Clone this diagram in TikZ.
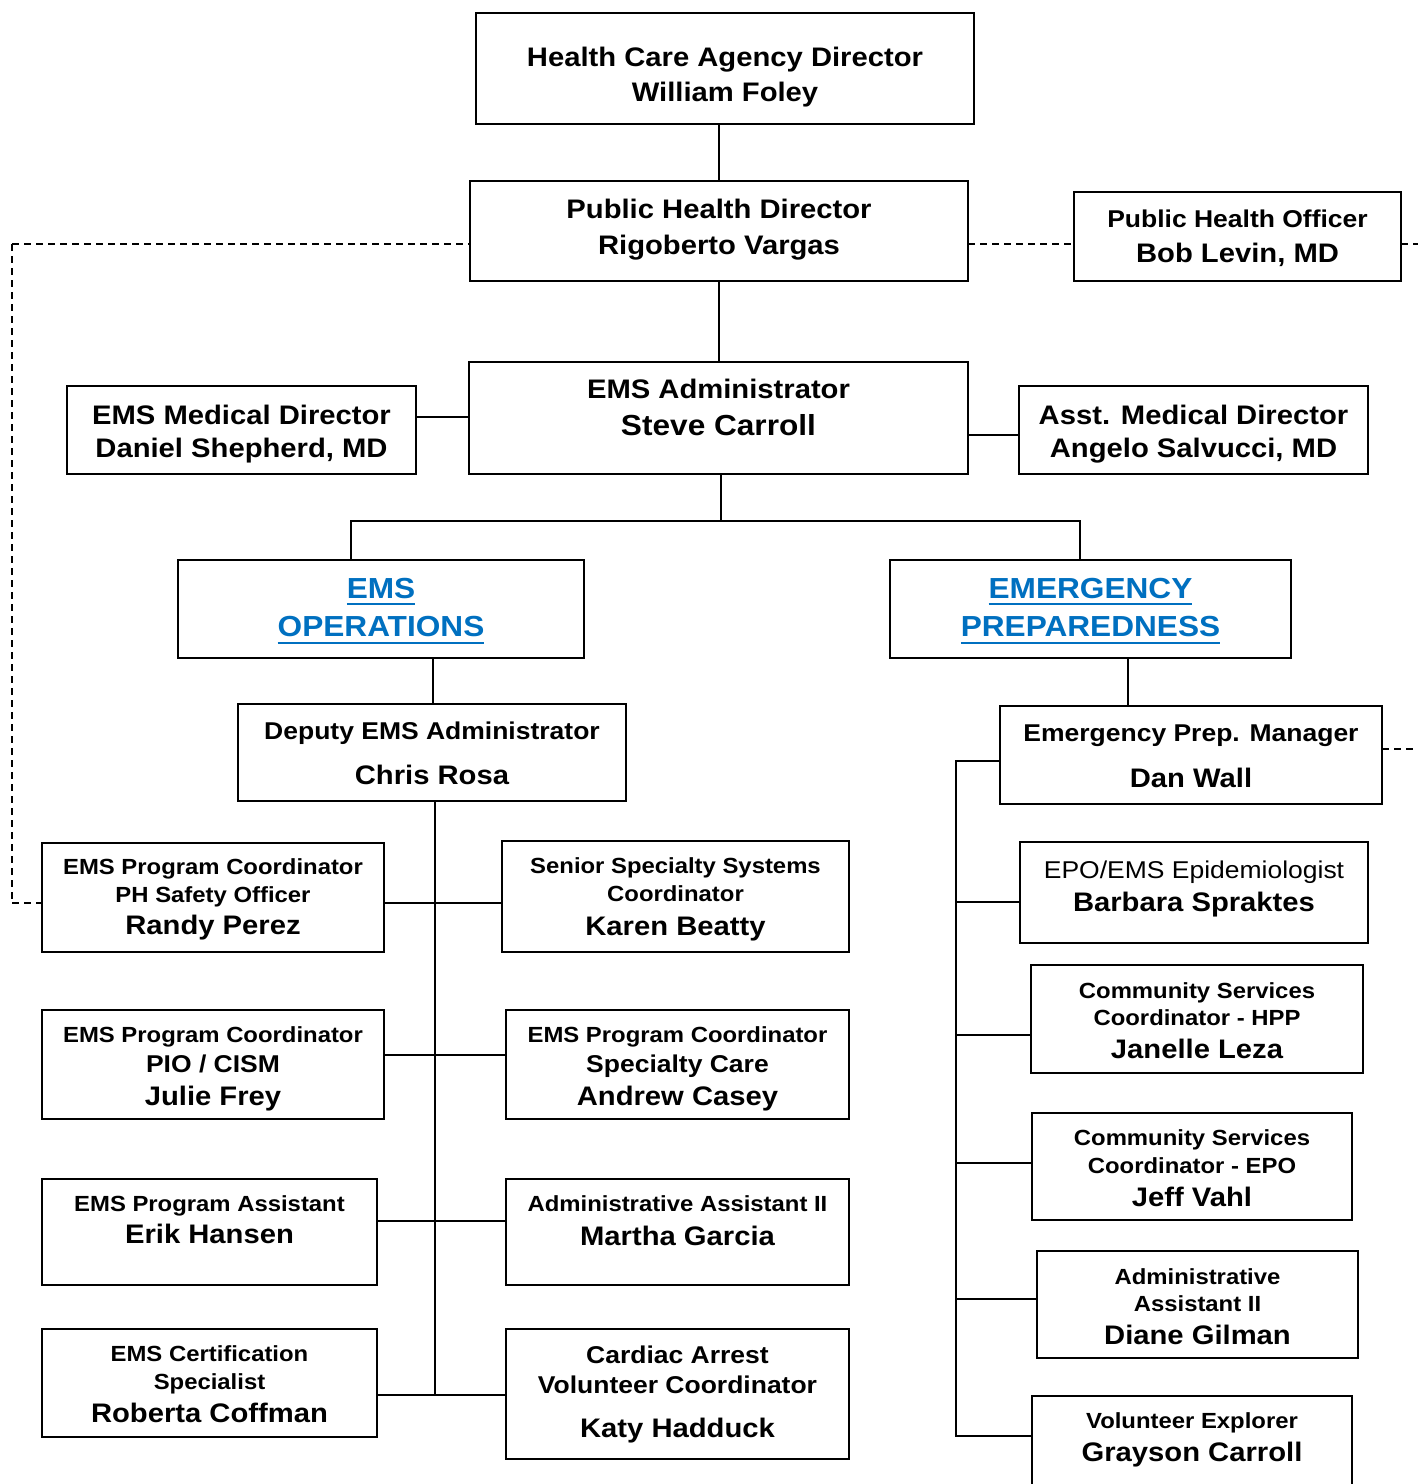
\documentclass[tikz,border=0pt]{standalone}
\usepackage{fontspec}
\setmainfont[FakeStretch=1.09]{Liberation Sans}
\definecolor{linkblue}{RGB}{0,112,192}
\newcommand\szA{\bfseries\fontsize{21.9}{24}\selectfont}
\newcommand\szB{\bfseries\fontsize{24.3}{27}\selectfont}
\newcommand\szBr{\mdseries\fontsize{24.3}{27}\selectfont}
\newcommand\szC{\bfseries\fontsize{26.8}{30}\selectfont}
\newcommand\szD{\bfseries\fontsize{29}{32}\selectfont}
\newcounter{tln}
\newcommand\orgbox[5]{\node[obox, minimum width={#4-#2}, minimum height={#5-#3}] (#1) at ({(#2+#4)/2},{(#3+#5)/2}) {};}
\newcommand\txl[4]{\stepcounter{tln}\node[tline, font=#3] (tl\arabic{tln}) at (#1,#2) {#4};}
\begin{document}
\begin{tikzpicture}[x=1pt,y=-1pt,
  obox/.style={draw, line width=2pt, inner sep=0pt, outer sep=0pt, fill=white},
  tline/.style={anchor=base, inner sep=0pt, outer sep=0pt},
  conn/.style={line width=2pt},
  dsh/.style={line width=2pt, dash pattern=on 7pt off 5pt},
  uline/.style={linkblue, line width=2.6pt}]
\path[use as bounding box] (0,0) rectangle (1418,1484);
\clip (0,0) rectangle (1418,1484);
\fill[white] (0,0) rectangle (1418,1484);

% coordinates for connector routing
\coordinate (dl) at (12,244);
\coordinate (dlb) at (12,903);
\coordinate (dr1) at (1418,244);
\coordinate (dr2) at (1418,749);
\coordinate (c417) at (0,417);
\coordinate (c435) at (0,435);
\coordinate (bus) at (721,521);
\coordinate (busL) at (351,521);
\coordinate (busR) at (1080,521);
\coordinate (x433) at (433,0);
\coordinate (x1128) at (1128,0);
\coordinate (h1) at (435,903);
\coordinate (h2) at (435,1055);
\coordinate (h3) at (435,1221);
\coordinate (h4) at (435,1395);
\coordinate (r0) at (956,761);
\coordinate (r1) at (956,902);
\coordinate (r2) at (956,1035);
\coordinate (r3) at (956,1163);
\coordinate (r4) at (956,1299);
\coordinate (r6) at (956,1436);

% connectors
\draw[dsh] (dl) -- (dlb);
\draw[dsh] (dl) -- (718,244);
\draw[dsh] (dlb) -- (42,903);
\draw[dsh] (968,244) -- (1074,244);
\draw[dsh] (1401,244) -- (dr1);
\draw[dsh] (1382,749) -- (dr2);

\orgbox{hca}{476}{13}{974}{124}
\orgbox{phd}{470}{181}{968}{281}
\orgbox{pho}{1074}{192}{1401}{281}
\orgbox{emd}{67}{386}{416}{474}
\orgbox{adm}{469}{362}{968}{474}
\orgbox{amd}{1019}{386}{1368}{474}
\orgbox{ops}{178}{560}{584}{658}
\orgbox{prep}{890}{560}{1291}{658}
\orgbox{dep}{238}{704}{626}{801}
\orgbox{mgr}{1000}{706}{1382}{804}
\orgbox{randy}{42}{843}{384}{952}
\orgbox{karen}{502}{841}{849}{952}
\orgbox{barb}{1020}{842}{1368}{943}
\orgbox{julie}{42}{1010}{384}{1119}
\orgbox{andrew}{506}{1010}{849}{1119}
\orgbox{jan}{1031}{965}{1363}{1073}
\orgbox{erik}{42}{1179}{377}{1285}
\orgbox{martha}{506}{1179}{849}{1285}
\orgbox{jeff}{1032}{1113}{1352}{1220}
\orgbox{rob}{42}{1329}{377}{1437}
\orgbox{katy}{506}{1329}{849}{1459}
\orgbox{diane}{1037}{1251}{1358}{1358}
\orgbox{gray}{1032}{1396}{1352}{1520}

\draw[conn] (hca.south -| phd.north) -- (phd.north);
\draw[conn] (phd.south) -- (phd.south |- adm.north);
\draw[conn] (emd.east |- c417) -- (adm.west |- c417);
\draw[conn] (adm.east |- c435) -- (amd.west |- c435);
\draw[conn] (adm.south -| bus) -- (bus);
\draw[conn] (busL |- ops.north) -- (busL) -- (busR) -- (busR |- prep.north);
\draw[conn] (x433 |- ops.south) -- (x433 |- dep.north);
\draw[conn] (x1128 |- prep.south) -- (x1128 |- mgr.north);
\draw[conn] (dep.south -| h4) -- (h4);
\draw[conn] (randy.east |- h1) -- (karen.west |- h1);
\draw[conn] (julie.east |- h2) -- (andrew.west |- h2);
\draw[conn] (erik.east |- h3) -- (martha.west |- h3);
\draw[conn] (rob.east |- h4) -- (katy.west |- h4);
\draw[conn] (mgr.west |- r0) -- (r0) -- (r6) -- (gray.west |- r6);
\draw[conn] (r1) -- (barb.west |- r1);
\draw[conn] (r2) -- (jan.west |- r2);
\draw[conn] (r3) -- (jeff.west |- r3);
\draw[conn] (r4) -- (diane.west |- r4);

% texts
\txl{725}{66}{\szC}{Health Care Agency Director}
\txl{725}{101}{\szC}{William Foley}
\txl{719}{218}{\szC}{Public Health Director}
\txl{719}{254}{\szC}{Rigoberto Vargas}
\txl{1237.5}{227}{\szB}{Public Health Officer}
\txl{1237.5}{262}{\szC}{Bob Levin, MD}
\txl{241.5}{424}{\szC}{EMS Medical Director}
\txl{241.5}{457}{\szC}{Daniel Shepherd, MD}
\txl{718.5}{398}{\szC}{EMS Administrator}
\txl{718.5}{435}{\szD}{Steve Carroll}
\txl{1193.5}{424}{\szC}{Asst. Medical Director}
\txl{1193.5}{457}{\szC}{Angelo Salvucci, MD}

\node[tline, font=\szD, text=linkblue] (opsA) at (381,598) {EMS};
\node[tline, font=\szD, text=linkblue] (opsB) at (381,636) {OPERATIONS};
\node[tline, font=\szD, text=linkblue] (prepA) at (1090.5,598) {EMERGENCY};
\node[tline, font=\szD, text=linkblue] (prepB) at (1090.5,636) {PREPAREDNESS};
\coordinate (u1) at (0,604);
\coordinate (u2) at (0,643);
\draw[uline] (opsA.west |- u1) -- (opsA.east |- u1);
\draw[uline] (opsB.west |- u2) -- (opsB.east |- u2);
\draw[uline] (prepA.west |- u1) -- (prepA.east |- u1);
\draw[uline] (prepB.west |- u2) -- (prepB.east |- u2);

\txl{432}{739}{\szB}{Deputy EMS Administrator}
\txl{432}{784}{\szC}{Chris Rosa}
\txl{1191}{741}{\szB}{Emergency Prep. Manager}
\txl{1191}{787}{\szC}{Dan Wall}

\txl{213}{874}{\szA}{EMS Program Coordinator}
\txl{213}{902}{\szA}{PH Safety Officer}
\txl{213}{934}{\szC}{Randy Perez}
\txl{675.5}{873}{\szA}{Senior Specialty Systems}
\txl{675.5}{901}{\szA}{Coordinator}
\txl{675.5}{935}{\szC}{Karen Beatty}
\txl{1194}{878}{\szBr}{EPO/EMS Epidemiologist}
\txl{1194}{911}{\szC}{Barbara Spraktes}

\txl{213}{1042}{\szA}{EMS Program Coordinator}
\txl{213}{1072}{\szB}{PIO / CISM}
\txl{213}{1105}{\szC}{Julie Frey}
\txl{677.5}{1042}{\szA}{EMS Program Coordinator}
\txl{677.5}{1072}{\szB}{Specialty Care}
\txl{677.5}{1105}{\szC}{Andrew Casey}
\txl{1197}{998}{\szA}{Community Services}
\txl{1197}{1025}{\szA}{Coordinator - HPP}
\txl{1197}{1058}{\szC}{Janelle Leza}

\txl{209.5}{1211}{\szA}{EMS Program Assistant}
\txl{209.5}{1243}{\szC}{Erik Hansen}
\txl{677.5}{1211}{\szA}{Administrative Assistant II}
\txl{677.5}{1245}{\szC}{Martha Garcia}
\txl{1192}{1145}{\szA}{Community Services}
\txl{1192}{1173}{\szA}{Coordinator - EPO}
\txl{1192}{1206}{\szC}{Jeff Vahl}

\txl{209.5}{1361}{\szA}{EMS Certification}
\txl{209.5}{1389}{\szA}{Specialist}
\txl{209.5}{1422}{\szC}{Roberta Coffman}
\txl{677.5}{1363}{\szB}{Cardiac Arrest}
\txl{677.5}{1393}{\szB}{Volunteer Coordinator}
\txl{677.5}{1437}{\szC}{Katy Hadduck}
\txl{1197.5}{1284}{\szA}{Administrative}
\txl{1197.5}{1311}{\szA}{Assistant II}
\txl{1197.5}{1344}{\szC}{Diane Gilman}
\txl{1192}{1428}{\szA}{Volunteer Explorer}
\txl{1192}{1461}{\szC}{Grayson Carroll}
\end{tikzpicture}
\end{document}
